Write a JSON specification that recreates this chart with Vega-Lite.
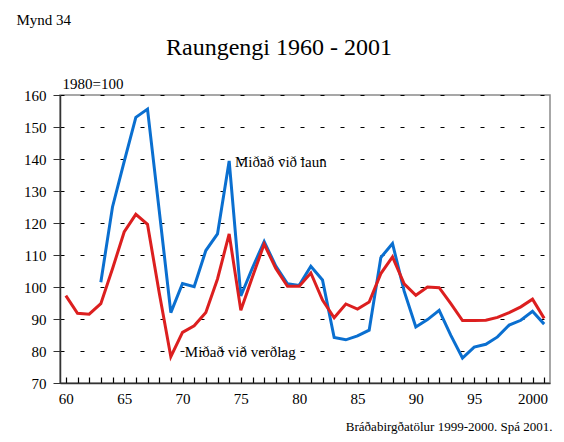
{
  "$schema": "https://vega.github.io/schema/vega-lite/v6.json",
  "width": 490,
  "height": 288,
  "autosize": {"type": "none"},
  "padding": {"left": 60, "top": 95, "right": 14, "bottom": 59},
  "background": "white",
  "title": {
    "text": "Raungengi 1960 - 2001",
    "font": "Liberation Serif",
    "fontSize": 24,
    "fontWeight": "normal",
    "color": "black",
    "anchor": "middle",
    "frame": "group",
    "dx": -26,
    "offset": -48
  },
  "datasets": {
    "lines": [
      {"series": "Miðað við laun", "year": 1963, "value": 101.5},
      {"series": "Miðað við laun", "year": 1964, "value": 125},
      {"series": "Miðað við laun", "year": 1965, "value": 139.2},
      {"series": "Miðað við laun", "year": 1966, "value": 153},
      {"series": "Miðað við laun", "year": 1967, "value": 155.6},
      {"series": "Miðað við laun", "year": 1968, "value": 124},
      {"series": "Miðað við laun", "year": 1969, "value": 92},
      {"series": "Miðað við laun", "year": 1970, "value": 101.1},
      {"series": "Miðað við laun", "year": 1971, "value": 100.1},
      {"series": "Miðað við laun", "year": 1972, "value": 111.4},
      {"series": "Miðað við laun", "year": 1973, "value": 116.6},
      {"series": "Miðað við laun", "year": 1974, "value": 139.4},
      {"series": "Miðað við laun", "year": 1975, "value": 97.2},
      {"series": "Miðað við laun", "year": 1976, "value": 106},
      {"series": "Miðað við laun", "year": 1977, "value": 114.2},
      {"series": "Miðað við laun", "year": 1978, "value": 106.5},
      {"series": "Miðað við laun", "year": 1979, "value": 101},
      {"series": "Miðað við laun", "year": 1980, "value": 100.5},
      {"series": "Miðað við laun", "year": 1981, "value": 106.5},
      {"series": "Miðað við laun", "year": 1982, "value": 102.2},
      {"series": "Miðað við laun", "year": 1983, "value": 84.2},
      {"series": "Miðað við laun", "year": 1984, "value": 83.5},
      {"series": "Miðað við laun", "year": 1985, "value": 84.7},
      {"series": "Miðað við laun", "year": 1986, "value": 86.5},
      {"series": "Miðað við laun", "year": 1987, "value": 109.2},
      {"series": "Miðað við laun", "year": 1988, "value": 113.6},
      {"series": "Miðað við laun", "year": 1989, "value": 98.7},
      {"series": "Miðað við laun", "year": 1990, "value": 87.5},
      {"series": "Miðað við laun", "year": 1991, "value": 89.8},
      {"series": "Miðað við laun", "year": 1992, "value": 92.7},
      {"series": "Miðað við laun", "year": 1993, "value": 84.9},
      {"series": "Miðað við laun", "year": 1994, "value": 77.8},
      {"series": "Miðað við laun", "year": 1995, "value": 81.2},
      {"series": "Miðað við laun", "year": 1996, "value": 82.1},
      {"series": "Miðað við laun", "year": 1997, "value": 84.4},
      {"series": "Miðað við laun", "year": 1998, "value": 88.1},
      {"series": "Miðað við laun", "year": 1999, "value": 89.6},
      {"series": "Miðað við laun", "year": 2000, "value": 92.4},
      {"series": "Miðað við laun", "year": 2001, "value": 88.4},
      {"series": "Miðað við verðlag", "year": 1960, "value": 97.3},
      {"series": "Miðað við verðlag", "year": 1961, "value": 91.8},
      {"series": "Miðað við verðlag", "year": 1962, "value": 91.5},
      {"series": "Miðað við verðlag", "year": 1963, "value": 94.8},
      {"series": "Miðað við verðlag", "year": 1964, "value": 105.7},
      {"series": "Miðað við verðlag", "year": 1965, "value": 117.2},
      {"series": "Miðað við verðlag", "year": 1966, "value": 122.7},
      {"series": "Miðað við verðlag", "year": 1967, "value": 119.6},
      {"series": "Miðað við verðlag", "year": 1968, "value": 98.3},
      {"series": "Miðað við verðlag", "year": 1969, "value": 78.2},
      {"series": "Miðað við verðlag", "year": 1970, "value": 85.8},
      {"series": "Miðað við verðlag", "year": 1971, "value": 87.9},
      {"series": "Miðað við verðlag", "year": 1972, "value": 92},
      {"series": "Miðað við verðlag", "year": 1973, "value": 102.5},
      {"series": "Miðað við verðlag", "year": 1974, "value": 116.6},
      {"series": "Miðað við verðlag", "year": 1975, "value": 92.7},
      {"series": "Miðað við verðlag", "year": 1976, "value": 103.2},
      {"series": "Miðað við verðlag", "year": 1977, "value": 113.4},
      {"series": "Miðað við verðlag", "year": 1978, "value": 105.8},
      {"series": "Miðað við verðlag", "year": 1979, "value": 100.2},
      {"series": "Miðað við verðlag", "year": 1980, "value": 100.2},
      {"series": "Miðað við verðlag", "year": 1981, "value": 104.4},
      {"series": "Miðað við verðlag", "year": 1982, "value": 95.9},
      {"series": "Miðað við verðlag", "year": 1983, "value": 90.4},
      {"series": "Miðað við verðlag", "year": 1984, "value": 94.7},
      {"series": "Miðað við verðlag", "year": 1985, "value": 93.1},
      {"series": "Miðað við verðlag", "year": 1986, "value": 95.3},
      {"series": "Miðað við verðlag", "year": 1987, "value": 104.2},
      {"series": "Miðað við verðlag", "year": 1988, "value": 109.4},
      {"series": "Miðað við verðlag", "year": 1989, "value": 101},
      {"series": "Miðað við verðlag", "year": 1990, "value": 97.4},
      {"series": "Miðað við verðlag", "year": 1991, "value": 100},
      {"series": "Miðað við verðlag", "year": 1992, "value": 99.8},
      {"series": "Miðað við verðlag", "year": 1993, "value": 94.8},
      {"series": "Miðað við verðlag", "year": 1994, "value": 89.5},
      {"series": "Miðað við verðlag", "year": 1995, "value": 89.5},
      {"series": "Miðað við verðlag", "year": 1996, "value": 89.6},
      {"series": "Miðað við verðlag", "year": 1997, "value": 90.5},
      {"series": "Miðað við verðlag", "year": 1998, "value": 92},
      {"series": "Miðað við verðlag", "year": 1999, "value": 93.8},
      {"series": "Miðað við verðlag", "year": 2000, "value": 96.2},
      {"series": "Miðað við verðlag", "year": 2001, "value": 90.2}
    ],
    "labels": [
      {"label": "Miðað við laun", "year": 1974.5, "value": 139.2},
      {"label": "Miðað við verðlag", "year": 1970.2, "value": 79.6}
    ]
  },
  "encoding": {
    "x": {
      "field": "year",
      "type": "quantitative",
      "scale": {"domain": [1959.5, 2001.5], "nice": false, "zero": false},
      "axis": {
        "values": [1960,1961,1962,1963,1964,1965,1966,1967,1968,1969,1970,1971,1972,1973,1974,1975,1976,1977,1978,1979,1980,1981,1982,1983,1984,1985,1986,1987,1988,1989,1990,1991,1992,1993,1994,1995,1996,1997,1998,1999,2000,2001],
        "labelExpr": "datum.value % 5 == 0 ? (datum.value == 2000 ? '2000' : substring(toString(datum.value), 2)) : ''",
        "labelOverlap": false,
        "labelFlush": false,
        "grid": false,
        "ticks": true,
        "tickSize": -6,
        "tickColor": "black",
        "tickWidth": 1.2,
        "labelPadding": 14,
        "zindex": 2,
        "title": "Bráðabirgðatölur 1999-2000. Spá 2001.",
        "titleFontSize": 13,
        "titleFontWeight": "normal",
        "titleAnchor": "end",
        "titleAlign": "right",
        "titleBaseline": "alphabetic",
        "titleX": 492,
        "titleY": 47
      }
    }
  },
  "layer": [
    {
      "data": {"name": "lines"},
      "mark": {"type": "line", "strokeWidth": 3, "strokeJoin": "miter"},
      "encoding": {
        "y": {
          "field": "value",
          "type": "quantitative",
          "scale": {"domain": [70, 160], "nice": false, "zero": false},
          "axis": {
            "values": [70, 80, 90, 100, 110, 120, 130, 140, 150, 160],
            "grid": true,
            "gridColor": "black",
            "gridDash": [4, 16],
            "gridWidth": 1,
            "gridOpacity": 1,
            "tickSize": 7,
            "labelPadding": 7,
            "title": "1980=100",
            "titleAngle": 0,
            "titleFontSize": 15,
            "titleFontWeight": "normal",
            "titleAlign": "left",
            "titleBaseline": "alphabetic",
            "titleX": 2,
            "titleY": -7
          }
        },
        "color": {
          "field": "series",
          "type": "nominal",
          "scale": {"domain": ["Miðað við laun", "Miðað við verðlag"], "range": ["#0a6fd0", "#dc1f1f"]},
          "legend": null
        }
      }
    },
    {
      "data": {"name": "labels"},
      "mark": {"type": "text", "align": "left", "baseline": "middle", "font": "Liberation Serif", "fontSize": 15, "color": "black"},
      "encoding": {
        "y": {
          "field": "value",
          "type": "quantitative",
          "axis": {
            "orient": "right",
            "domain": false,
            "ticks": false,
            "labels": false,
            "grid": false,
            "title": "Mynd 34",
            "titleAngle": 0,
            "titleFontSize": 15,
            "titleFontWeight": "normal",
            "titleAlign": "left",
            "titleBaseline": "alphabetic",
            "titleX": -534,
            "titleY": -71
          }
        },
        "text": {"field": "label"}
      }
    }
  ],
  "resolve": {"axis": {"y": "independent"}},
  "config": {
    "font": "Liberation Serif",
    "view": {"stroke": "#8a8a8a", "strokeWidth": 1.5},
    "group": {"strokeForeground": false},
    "text": {"font": "Liberation Serif"},
    "title": {"font": "Liberation Serif"},
    "axis": {
      "labelFont": "Liberation Serif",
      "titleFont": "Liberation Serif",
      "labelFontSize": 15,
      "labelColor": "black",
      "titleColor": "black",
      "domainColor": "#333333",
      "domainWidth": 1.5,
      "tickColor": "#333333",
      "tickWidth": 1
    }
  }
}
